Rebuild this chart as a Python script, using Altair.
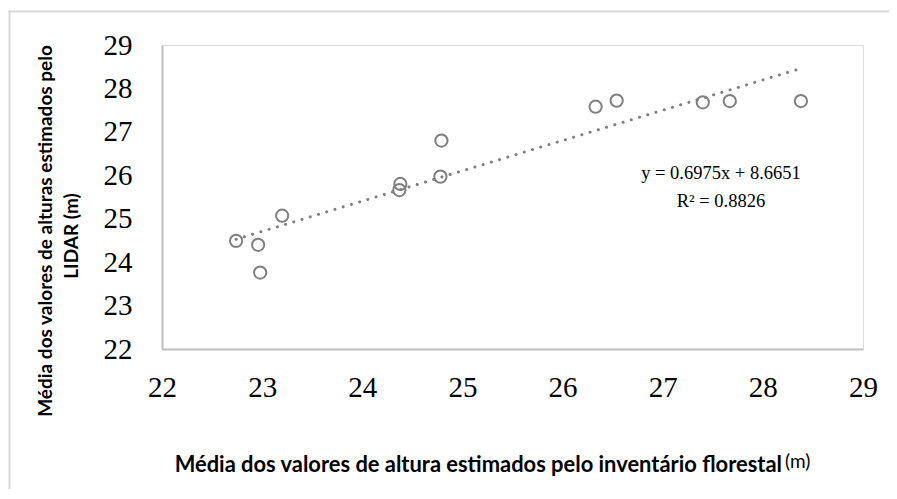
import altair as alt
import pandas as pd

# ---- data ----
x_vals = [22.74, 22.96, 22.98, 23.20, 24.38, 24.37, 24.78, 24.79, 26.33, 26.54, 27.40, 27.67, 28.38]
y_vals = [24.49, 24.40, 23.76, 25.07, 25.80, 25.66, 25.97, 26.80, 27.58, 27.72, 27.68, 27.71, 27.71]
slope = 0.6975
intercept = 8.6651
r2 = 0.8826
tick_vals = [22, 23, 24, 25, 26, 27, 28, 29]

x_title = "Média dos valores de altura estimados pelo inventário florestal"
x_title_unit = "(m)"
y_title_1 = "Média dos valores de alturas estimados pelo"
y_title_2 = "LIDAR (m)"
eq_line_1 = f"y = {slope}x + {intercept}"
eq_line_2 = f"R² = {r2}"

pts = pd.DataFrame({"x": x_vals, "y": y_vals})
xmin, xmax = min(x_vals), max(x_vals)
trend = pd.DataFrame({"x": [xmin, xmax],
                      "y": [slope * xmin + intercept, slope * xmax + intercept]})

GRAY = "#7f7f7f"
AXIS = "#bfbfbf"
BORDER = "#d9d9d9"
SERIF = "Liberation Serif"
SANS = "Lato"

xscale = alt.Scale(domain=[22, 29], nice=False, zero=False)
yscale = alt.Scale(domain=[22, 29], nice=False, zero=False)

xaxis = alt.Axis(values=tick_vals, format="d", title=None, grid=False, ticks=False,
                 domainColor=AXIS, domainWidth=2, labelFont=SERIF,
                 labelFontSize=29, labelColor="#000000", labelPadding=24,
                 labelBaseline="top", labelFlush=False, labelOverlap=False)
yaxis = alt.Axis(values=tick_vals, format="d", title=None, grid=False, ticks=False,
                 domainColor=AXIS, domainWidth=2, labelFont=SERIF,
                 labelFontSize=29, labelColor="#000000", labelPadding=30,
                 labelFlush=False, labelOverlap=False)

one = pd.DataFrame({"a": [0]})

# frame of the figure (top and left edges only are visible in the reference)
border_top = alt.Chart(one).mark_rect(color=BORDER, strokeWidth=0).encode(
    x=alt.value(-153.5), x2=alt.value(727), y=alt.value(-34.5), y2=alt.value(-32.5)
)
border_left = alt.Chart(one).mark_rect(color=BORDER, strokeWidth=0).encode(
    x=alt.value(-153.5), x2=alt.value(-151.5), y=alt.value(-34.5), y2=alt.value(444)
)

line = alt.Chart(trend).mark_line(color=GRAY, strokeWidth=3, strokeDash=[0.1, 8.5],
                                  strokeCap="round").encode(
    x=alt.X("x:Q", scale=xscale, axis=xaxis),
    y=alt.Y("y:Q", scale=yscale, axis=yaxis),
)

points = alt.Chart(pts).mark_point(shape="circle", filled=False, color=GRAY,
                                   strokeWidth=2, size=150, opacity=1).encode(
    x=alt.X("x:Q", scale=xscale),
    y=alt.Y("y:Q", scale=yscale),
)

def label(text, x, y, **kw):
    return alt.Chart(pd.DataFrame({"t": [text]})).mark_text(**kw).encode(
        text="t:N", x=alt.value(x), y=alt.value(y))

eq1 = label(eq_line_1, 559, 128, font=SERIF, fontSize=18.5, align="center",
            baseline="middle", color="#000000")
eq2 = label(eq_line_2, 559, 156, font=SERIF, fontSize=18.5, align="center",
            baseline="middle", color="#000000")

xt = label(x_title, 620, 427, font=SANS, fontSize=21.9, fontWeight="bold",
           align="right", baseline="alphabetic", color="#000000")
xu = label(x_title_unit, 623, 423, font=SANS, fontSize=19, align="left",
           baseline="alphabetic", color="#000000")

yt1 = label(y_title_1, -116, 186, font=SANS, fontSize=19, fontWeight="bold",
            angle=270, align="center", baseline="middle", color="#000000")
yt2 = label(y_title_2, -90, 191, font=SANS, fontSize=19, fontWeight="bold",
            angle=270, align="center", baseline="middle", color="#000000")

chart = alt.layer(border_top, border_left, line, points, eq1, eq2, xt, xu, yt1, yt2).properties(
    width=701, height=304,
    padding={"left": 154, "top": 37, "right": 26, "bottom": 140},
    autosize=alt.AutoSizeParams(type="none"),
).configure_view(strokeWidth=0).configure(background="white")

chart.save("out.html", embed_options={"renderer": "svg", "actions": False})
